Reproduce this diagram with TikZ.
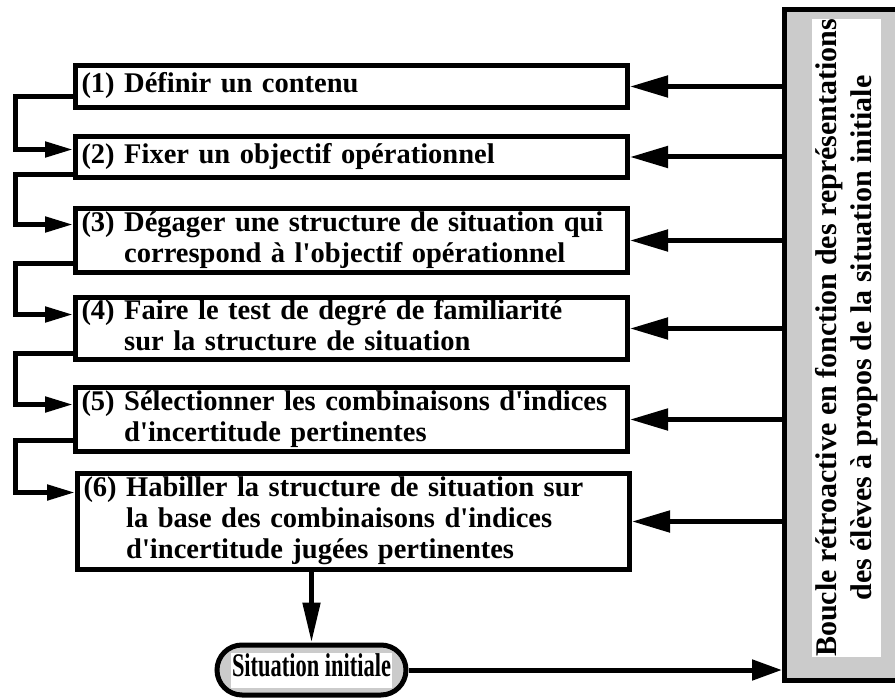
\documentclass[tikz,border=0pt]{standalone}
\usepackage{fontspec}
\setmainfont{Liberation Serif}
\usepackage{xcolor}
\usetikzlibrary{arrows.meta}

\definecolor{panelgray}{RGB}{203,203,203}

\newcommand{\stepline}[2]{\begin{tabular}{@{}l@{\ }l@{}}#1 & #2\end{tabular}}
\newcommand{\apos}{\textquotesingle}

\tikzset{
  stepbox/.style={draw, line width=5pt, text width=540pt, inner xsep=6pt,
    inner ysep=0pt, align=left, anchor=north west,
    font=\fontsize{28.5}{31}\selectfont\bfseries},
  seqarrow/.style={line width=5pt, -{Triangle[length=28pt,width=15pt]}},
  fbarrow/.style={line width=5pt, -{Triangle[length=38pt,width=21pt]}}
}

\begin{document}
\begin{tikzpicture}[x=1pt, y=-1pt]
  \useasboundingbox (0,0) rectangle (895,698);

  % the six steps
  \node[stepbox, minimum height=42pt] (b1) at (73,63)
    {\stepline{(1)}{Définir un contenu}};
  \node[stepbox, minimum height=41pt] (b2) at (73,134)
    {\stepline{(2)}{Fixer un objectif opérationnel}};
  \node[stepbox, minimum height=64pt] (b3) at (73,206)
    {\stepline{(3)}{Dégager une structure de situation qui\\ & correspond à l\apos objectif opérationnel}};
  \node[stepbox, minimum height=60pt] (b4) at (73,295)
    {\stepline{(4)}{Faire le test de degré de familiarité\\ & sur la structure de situation}};
  \node[stepbox, minimum height=64pt] (b5) at (73,385)
    {\stepline{(5)}{Sélectionner les combinaisons d\apos indices\\ & d\apos incertitude pertinentes}};
  \node[stepbox, minimum height=96pt] (b6) at (75,471)
    {\stepline{(6)}{Habiller la structure de situation sur\\ & la base des combinaisons d\apos indices\\ & d\apos incertitude jugées pertinentes}};

  % initial situation
  \node[draw, line width=5pt, fill=panelgray, rounded corners=25pt,
    minimum width=189pt, minimum height=50pt, inner sep=0pt,
    font=\fontsize{33}{33}\selectfont\bfseries] (sit) at (311.5,670)
    {\setlength\fboxsep{1pt}\colorbox{white}{\scalebox{0.68}[1]{\strut Situation initiale}}};

  % feedback panel
  \node[draw, line width=5pt, fill=panelgray, minimum width=124pt,
    minimum height=671pt] (fb) at (846.5,345) {};
  \node[fill=white, rotate=90, align=center, inner xsep=0pt, inner ysep=3pt,
    font=\fontsize{30}{35}\selectfont\bfseries] (fbtext) at (846.5,338)
    {Boucle rétroactive en fonction des représentations\\
     des élèves à propos de la situation initiale};

  % sequence on the left
  \draw[seqarrow] ([yshift=-10pt]b1.west) -- ++(-58,0) |- ([yshift=7.5pt]b2.west);
  \draw[seqarrow] ([yshift=-17.5pt]b2.west) -- ++(-58,0) |- ([yshift=16pt]b3.west);
  \draw[seqarrow] ([yshift=-23pt]b3.west) -- ++(-58,0) |- ([yshift=14pt]b4.west);
  \draw[seqarrow] ([yshift=-25pt]b4.west) -- ++(-58,0) |- ([yshift=15pt]b5.west);
  \draw[seqarrow] ([yshift=-21pt]b5.west) -- ++(-58,0) |- ([yshift=29pt]b6.west);

  % feedback to every step
  \foreach \b in {b1,b2,b3,b4,b5,b6}
    \draw[fbarrow] (\b.east -| fb.west) -- (\b.east);

  \draw[line width=5pt, -{Triangle[length=40pt,width=17pt]}] (sit.north |- b6.south) -- (sit.north);
  \draw[line width=5pt, -{Triangle[length=30pt,width=20pt]}] (sit.east) -- (sit.east -| fb.west);
\end{tikzpicture}
\end{document}
